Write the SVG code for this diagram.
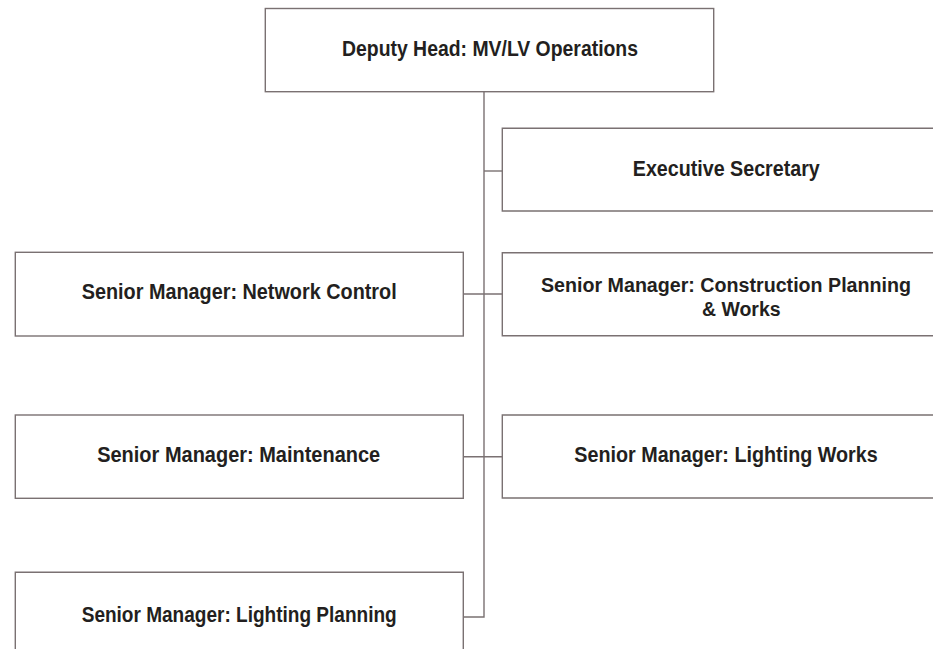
<svg xmlns="http://www.w3.org/2000/svg" width="933" height="649" viewBox="0 0 933 649">
<style>
.box{fill:#fff;stroke:#7a7172;stroke-width:1.4}
.ln{fill:none;stroke:#7a7172;stroke-width:1.4}
text{font-family:"Liberation Sans",Arial,sans-serif;font-weight:bold;font-size:22px;fill:#231f20;text-anchor:middle}
.sm{font-size:20px}
</style>
<rect width="933" height="649" fill="#fff"/>
<g id="connectors">
<path class="ln" d="M484 92V617H463.3"/>
<path class="ln" d="M484 171H502.3"/>
<path class="ln" d="M463.3 294H502.3"/>
<path class="ln" d="M463.3 456.7H502.3"/>
</g>
<g id="deputy-head"><rect class="box" x="265.3" y="8.5" width="448.4" height="83.2"/><text x="490" y="56.3" textLength="296" lengthAdjust="spacingAndGlyphs">Deputy Head: MV/LV Operations</text></g>
<g id="executive-secretary"><path class="box" d="M933 128.3H502.3V211H933"/><text x="726.3" y="175.6" textLength="187" lengthAdjust="spacingAndGlyphs">Executive Secretary</text></g>
<g id="construction"><path class="box" d="M933 252.7H502.3V335.7H933"/><text class="sm" x="726" y="292.3" textLength="370" lengthAdjust="spacingAndGlyphs">Senior Manager: Construction Planning</text><text class="sm" x="741.3" y="315.6" textLength="78.7" lengthAdjust="spacingAndGlyphs">&amp; Works</text></g>
<g id="network-control"><rect class="box" x="15.3" y="252.3" width="448" height="83.7"/><text x="239.2" y="299.3" textLength="315" lengthAdjust="spacingAndGlyphs">Senior Manager: Network Control</text></g>
<g id="maintenance"><rect class="box" x="15.3" y="415" width="448" height="83.3"/><text x="238.7" y="462.3" textLength="283" lengthAdjust="spacingAndGlyphs">Senior Manager: Maintenance</text></g>
<g id="lighting-works"><path class="box" d="M933 415H502.3V498H933"/><text x="726" y="462.3" textLength="303.4" lengthAdjust="spacingAndGlyphs">Senior Manager: Lighting Works</text></g>
<g id="lighting-planning"><path class="box" d="M15.3 649V572.3H463.3V649"/><text x="239.2" y="622.3" textLength="315" lengthAdjust="spacingAndGlyphs">Senior Manager: Lighting Planning</text></g>
</svg>
